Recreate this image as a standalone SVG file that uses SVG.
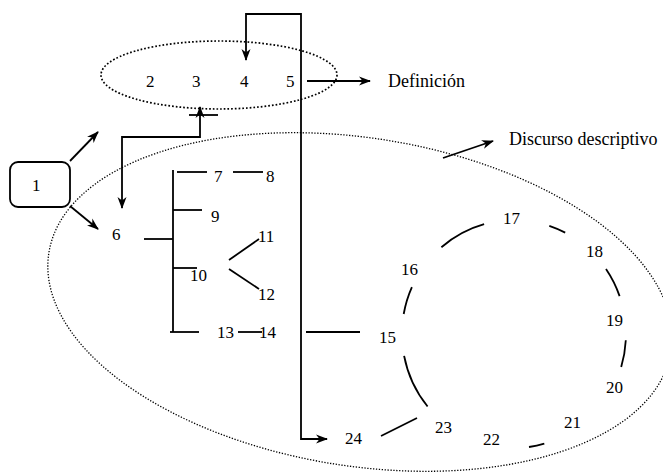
<svg xmlns="http://www.w3.org/2000/svg" width="663" height="472" viewBox="0 0 663 472">
<style>
text{font-family:"Liberation Serif","Times New Roman",serif;font-size:17px;fill:#000}
.lbl{font-size:18px}
.ln{fill:none;stroke:#000;stroke-width:1.8}
.dotA{fill:none;stroke:#000;stroke-width:1.7;stroke-dasharray:1.7 2}
.dotB{fill:none;stroke:#000;stroke-width:1.3;stroke-dasharray:1.3 1.6}
</style>
<defs>
<marker id="ah" viewBox="0 0 12 10" refX="11" refY="5" markerWidth="12" markerHeight="10" markerUnits="userSpaceOnUse" orient="auto-start-reverse">
<path d="M0,0.5 L12,5 L0,9.5 L3.5,5 z" fill="#000"/>
</marker>
</defs>
<rect width="663" height="472" fill="#fff"/>

<g id="groups">
<ellipse class="dotA" cx="219" cy="75" rx="118" ry="34"/>
<ellipse class="dotB" cx="360" cy="302" rx="315" ry="164" transform="rotate(9 360 302)"/>
</g>

<g id="connectors">
<polyline class="ln" points="246,60 246,14 301,14 301,439 327,439" marker-start="url(#ah)" marker-end="url(#ah)"/>
<polyline class="ln" points="200,107 200,137 122,137 122,208" marker-start="url(#ah)" marker-end="url(#ah)"/>
<line class="ln" x1="189" y1="115" x2="218" y2="115"/>
<line class="ln" x1="70" y1="161" x2="98" y2="132" marker-end="url(#ah)"/>
<line class="ln" x1="70" y1="206" x2="98" y2="229" marker-end="url(#ah)"/>
<line class="ln" x1="307" y1="81" x2="370" y2="81" marker-end="url(#ah)"/>
<line class="ln" x1="443" y1="158" x2="493" y2="141" marker-end="url(#ah)"/>
<line class="ln" x1="144" y1="239" x2="173" y2="239"/>
<line class="ln" x1="173" y1="170" x2="173" y2="332"/>
<line class="ln" x1="177" y1="172" x2="207" y2="172"/>
<line class="ln" x1="233" y1="172" x2="263" y2="172"/>
<line class="ln" x1="173" y1="210" x2="202" y2="210"/>
<line class="ln" x1="173" y1="268" x2="197" y2="268"/>
<line class="ln" x1="229" y1="260" x2="259" y2="239"/>
<line class="ln" x1="229" y1="269" x2="259" y2="289"/>
<line class="ln" x1="170" y1="332" x2="199" y2="332"/>
<line class="ln" x1="238" y1="332" x2="262" y2="332"/>
<line class="ln" x1="306" y1="332" x2="360" y2="332"/>
<line class="ln" x1="381" y1="436" x2="417" y2="418"/>
<path class="ln" d="M427.6,406.5 A112,114 0 0 1 404.1,355.9"/>
<path class="ln" d="M403.7,314 A112,114 0 0 1 411.9,287.1"/>
<path class="ln" d="M441.4,247.2 A112,114 0 0 1 484.1,224.1"/>
<path class="ln" d="M549.3,225.8 A112,114 0 0 1 565.2,232.6"/>
<path class="ln" d="M606,268.9 A112,114 0 0 1 619.6,296.1"/>
<path class="ln" d="M625.8,340.2 A112,114 0 0 1 621.2,366.9"/>
<path class="ln" d="M544.3,443.7 A112,114 0 0 1 529,447"/>
</g>

<g id="n1"><rect x="10" y="162" width="60" height="45" rx="8" fill="#fff" stroke="#000" stroke-width="1.8"/><text x="32" y="191">1</text></g>
<g id="n2"><text x="146" y="87">2</text></g>
<g id="n3"><text x="192" y="87">3</text></g>
<g id="n4"><text x="240" y="87">4</text></g>
<g id="n5"><text x="286" y="87">5</text></g>
<g id="n6"><text x="112" y="240">6</text></g>
<g id="n7"><text x="214" y="182">7</text></g>
<g id="n8"><text x="266" y="182">8</text></g>
<g id="n9"><text x="211" y="222">9</text></g>
<g id="n10"><text x="190" y="281">10</text></g>
<g id="n11"><text x="258" y="242">11</text></g>
<g id="n12"><text x="258" y="300">12</text></g>
<g id="n13"><text x="217" y="338">13</text></g>
<g id="n14"><text x="259" y="338">14</text></g>
<g id="n15"><text x="379" y="343">15</text></g>
<g id="n16"><text x="401" y="275">16</text></g>
<g id="n17"><text x="503" y="224">17</text></g>
<g id="n18"><text x="586" y="257">18</text></g>
<g id="n19"><text x="606" y="326">19</text></g>
<g id="n20"><text x="606" y="393">20</text></g>
<g id="n21"><text x="564" y="428">21</text></g>
<g id="n22"><text x="483" y="445">22</text></g>
<g id="n23"><text x="435" y="433">23</text></g>
<g id="n24"><text x="345" y="444">24</text></g>
<g id="definicion"><text class="lbl" x="388" y="87">Definición</text></g>
<g id="discurso"><text class="lbl" x="509" y="145">Discurso descriptivo</text></g>
</svg>
